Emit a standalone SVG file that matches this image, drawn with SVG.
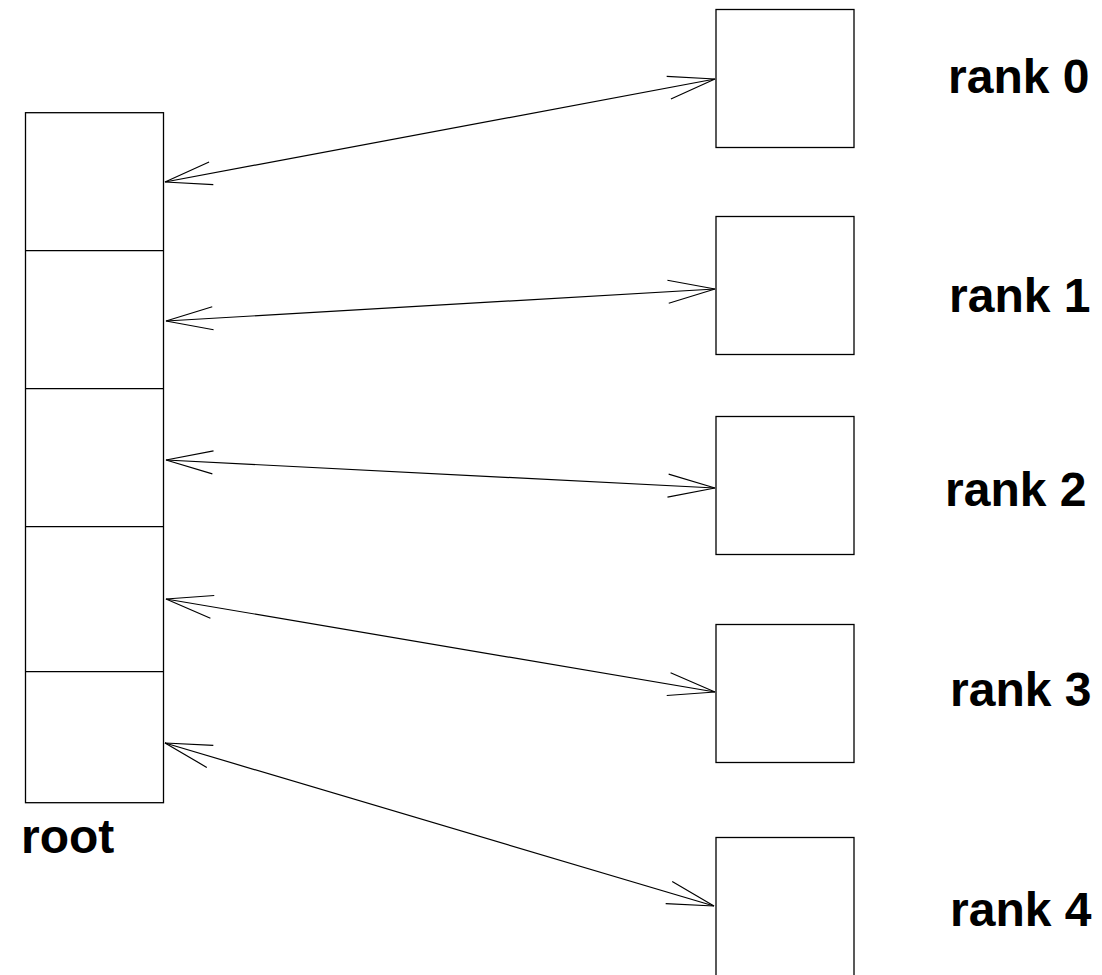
<svg xmlns="http://www.w3.org/2000/svg" width="1102" height="975" viewBox="0 0 1102 975">
<style>
.box{fill:#fff;stroke:#000;stroke-width:1.3}
.div{stroke:#000;stroke-width:1.3}
.conn{stroke:#000;stroke-width:1.2;fill:none;marker-start:url(#ah);marker-end:url(#ah)}
.lbl{font-family:"Liberation Sans",Arial,sans-serif;font-weight:bold;font-size:48px;fill:#000}
</style>
<defs>
<marker id="ah" markerUnits="userSpaceOnUse" markerWidth="60" markerHeight="40" refX="0" refY="0" orient="auto-start-reverse" overflow="visible" viewBox="-60 -20 60 40">
<path d="M-47,-11.5 L0,0 L-47,11.5" fill="none" stroke="#000" stroke-width="1.2"/>
</marker>
</defs>
<rect width="1102" height="975" fill="#fff"/>
<g id="root">
<rect class="box" x="25.5" y="112.7" width="138" height="690"/>
<line class="div" x1="25.5" y1="250.7" x2="163.5" y2="250.7"/>
<line class="div" x1="25.5" y1="388.7" x2="163.5" y2="388.7"/>
<line class="div" x1="25.5" y1="526.7" x2="163.5" y2="526.7"/>
<line class="div" x1="25.5" y1="671.7" x2="163.5" y2="671.7"/>
<text class="lbl" x="21" y="853">root</text>
</g>
<g id="rank0">
<rect class="box" x="716" y="9.5" width="138" height="138"/>
<text class="lbl" x="948" y="93">rank 0</text>
</g>
<g id="rank1">
<rect class="box" x="716" y="216.5" width="138" height="138"/>
<text class="lbl" x="949" y="312">rank 1</text>
</g>
<g id="rank2">
<rect class="box" x="716" y="416.5" width="138" height="138"/>
<text class="lbl" x="945" y="506">rank 2</text>
</g>
<g id="rank3">
<rect class="box" x="716" y="624.5" width="138" height="138"/>
<text class="lbl" x="950" y="706">rank 3</text>
</g>
<g id="rank4">
<rect class="box" x="716" y="837.5" width="138" height="140"/>
<text class="lbl" x="950" y="926">rank 4</text>
</g>
<g id="connectors">
<line class="conn" x1="165" y1="182" x2="715" y2="79"/>
<line class="conn" x1="166" y1="321" x2="715" y2="289"/>
<line class="conn" x1="166" y1="460" x2="715" y2="488"/>
<line class="conn" x1="166" y1="599" x2="715" y2="692"/>
<line class="conn" x1="165" y1="743" x2="714" y2="906"/>
</g>
</svg>
